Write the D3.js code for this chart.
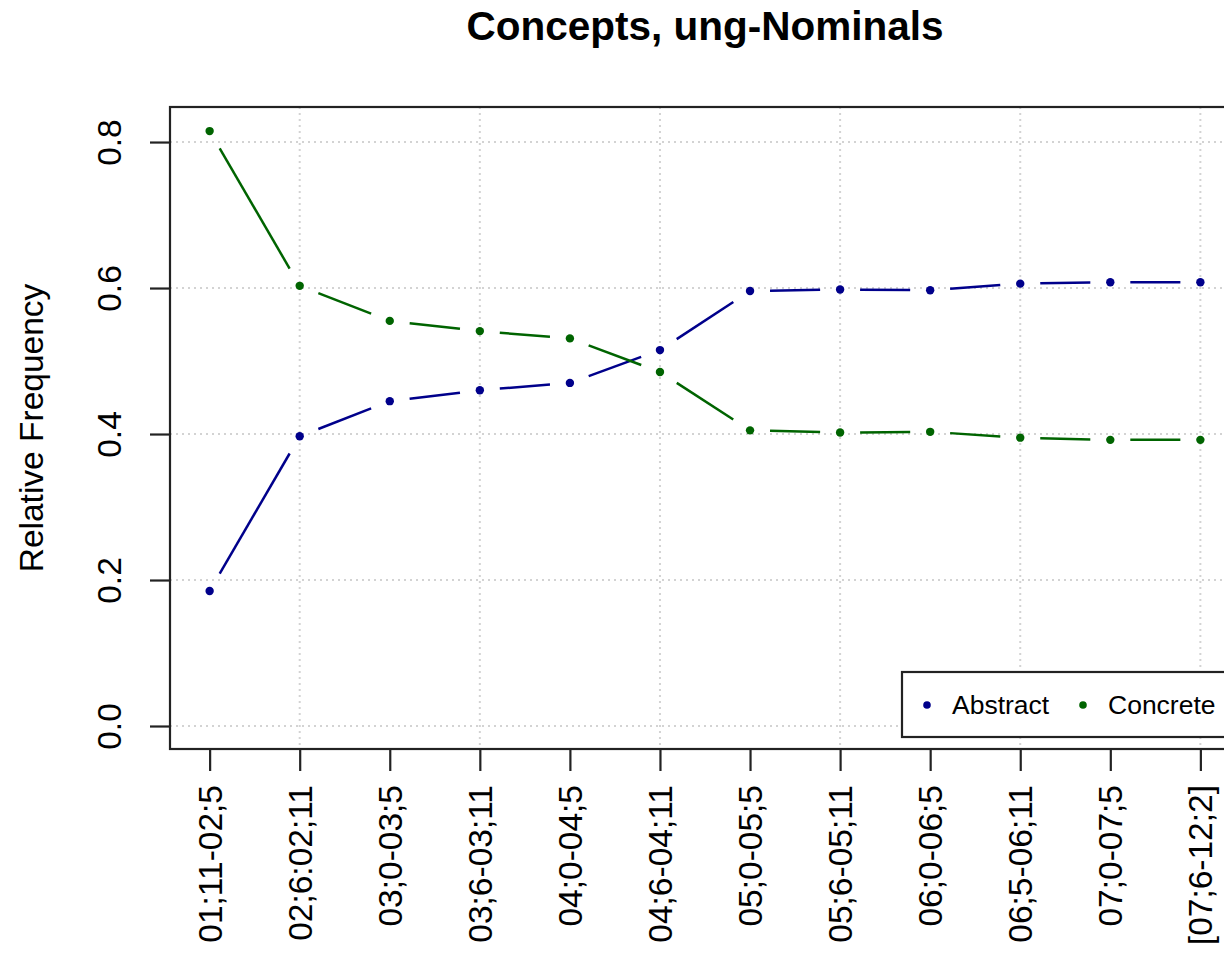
<!DOCTYPE html>
<html>
<head>
<meta charset="utf-8">
<script src="https://cdn.jsdelivr.net/npm/d3@7"></script>
<style>
  html, body { margin: 0; padding: 0; background: #fff; }
  svg { display: block; font-family: "Liberation Sans", Arial, sans-serif; }
</style>
</head>
<body>
<svg id="chart" width="1224" height="958"></svg>
<script>
const categories = ["01;11-02;5", "02;6:02;11", "03;0-03;5", "03;6-03;11", "04;0-04;5", "04;6-04;11",
                    "05;0-05;5", "05;6-05;11", "06;0-06;5", "06;5-06;11", "07;0-07;5", "[07;6-12;2]"];
const abstractValues = [0.185, 0.397, 0.445, 0.460, 0.470, 0.515, 0.596, 0.598, 0.597, 0.606, 0.608, 0.608];
const concreteValues = [0.815, 0.603, 0.555, 0.541, 0.531, 0.485, 0.405, 0.402, 0.403, 0.395, 0.392, 0.392];
const yTicks = [0.0, 0.2, 0.4, 0.6, 0.8];
const xGridIdx = [2, 4, 6, 8, 10, 12];
const seriesNames = ["Abstract", "Concrete"];
const seriesColors = ["#00008B", "#006400"];

const svg = d3.select("#chart");
const L = 170, R = 1240, T = 107, B = 749;

const x = d3.scaleLinear().domain([0.56, 12.44]).range([L, R]);
const y = d3.scaleLinear().domain([-0.0315, 0.848]).range([B, T]);

// grid
const grid = svg.append("g").attr("stroke", "#d3d3d3").attr("stroke-width", 2).attr("stroke-dasharray", "2,4");
grid.selectAll("line.h").data(yTicks).enter().append("line")
  .attr("x1", L).attr("x2", R).attr("y1", d => y(d)).attr("y2", d => y(d));
grid.selectAll("line.v").data(xGridIdx).enter().append("line")
  .attr("x1", d => x(d)).attr("x2", d => x(d)).attr("y1", T).attr("y2", B);

// series (type "b": points with gapped segments)
const gap = 20;
const series = [abstractValues, concreteValues];
series.forEach((vals, si) => {
  const pts = vals.map((v, i) => [x(i + 1), y(v)]);
  const g = svg.append("g");
  for (let i = 0; i < pts.length - 1; i++) {
    const [x0, y0] = pts[i], [x1, y1] = pts[i + 1];
    const dx = x1 - x0, dy = y1 - y0, len = Math.hypot(dx, dy);
    if (len <= 2 * gap) continue;
    const ux = dx / len, uy = dy / len;
    g.append("line")
      .attr("x1", x0 + ux * gap).attr("y1", y0 + uy * gap)
      .attr("x2", x1 - ux * gap).attr("y2", y1 - uy * gap)
      .attr("stroke", seriesColors[si]).attr("stroke-width", 2.5);
  }
  g.selectAll("circle").data(vals).enter().append("circle")
    .attr("cx", (d, i) => x(i + 1)).attr("cy", d => y(d)).attr("r", 4.2)
    .attr("fill", seriesColors[si]);
});

// box
svg.append("rect").attr("x", L).attr("y", T).attr("width", R - L).attr("height", B - T)
  .attr("fill", "none").attr("stroke", "#222").attr("stroke-width", 2.2);

// y axis
const yAxis = svg.append("g").attr("transform", `translate(${L},0)`)
  .call(d3.axisLeft(y).tickValues(yTicks).tickSize(20).tickFormat(d3.format(".1f")));
yAxis.select(".domain").remove();
yAxis.selectAll(".tick line").attr("stroke", "#222").attr("stroke-width", 2.2);
yAxis.selectAll(".tick text")
  .attr("x", null).attr("dy", null)
  .attr("transform", "translate(-49,0) rotate(-90)")
  .attr("text-anchor", "middle")
  .attr("font-size", 33.5).attr("fill", "#000")
  .attr("font-family", "Liberation Sans, Arial, sans-serif");

// x axis
const xAxis = svg.append("g").attr("transform", `translate(0,${B})`)
  .call(d3.axisBottom(x).tickValues(d3.range(1, categories.length + 1)).tickSize(22)
    .tickFormat(d => categories[d - 1]));
xAxis.select(".domain").remove();
xAxis.selectAll(".tick line").attr("stroke", "#222").attr("stroke-width", 2.2);
xAxis.selectAll(".tick text")
  .attr("y", null).attr("dy", null)
  .attr("transform", "translate(0,36) rotate(-90)")
  .attr("text-anchor", "end")
  .attr("dominant-baseline", "central")
  .attr("font-size", 33.5).attr("fill", "#000")
  .attr("font-family", "Liberation Sans, Arial, sans-serif");

// y title
svg.append("text")
  .attr("transform", `translate(43,${(T + B) / 2}) rotate(-90)`)
  .attr("text-anchor", "middle")
  .attr("font-size", 33.5)
  .text("Relative Frequency");

// title
svg.append("text")
  .attr("x", (L + R) / 2).attr("y", 40)
  .attr("text-anchor", "middle")
  .attr("font-size", 40.5).attr("font-weight", "bold")
  .text("Concepts, ung-Nominals");

// legend
const leg = svg.append("g");
leg.append("rect").attr("x", 902).attr("y", 672).attr("width", R - 902).attr("height", 65)
  .attr("fill", "#fff").attr("stroke", "#222").attr("stroke-width", 2.2);
const legX = [927, 1083];
seriesNames.forEach((n, i) => {
  leg.append("circle").attr("cx", legX[i]).attr("cy", 705).attr("r", 3.8).attr("fill", seriesColors[i]);
  leg.append("text").attr("x", legX[i] + 25).attr("y", 705).attr("dy", "0.35em")
    .attr("font-size", 26.5).text(n);
});
</script>
</body>
</html>
